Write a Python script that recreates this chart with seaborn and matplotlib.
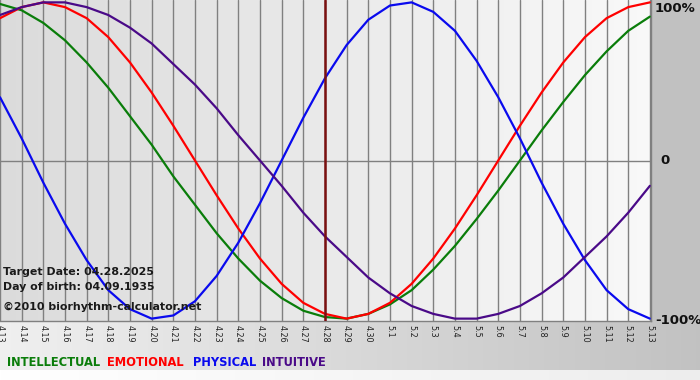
import numpy as np
import pandas as pd
import matplotlib
matplotlib.use("Agg")
import matplotlib.pyplot as plt
import seaborn as sns

dates = ["4.13", "4.14", "4.15", "4.16", "4.17", "4.18", "4.19", "4.20", "4.21", "4.22",
         "4.23", "4.24", "4.25", "4.26", "4.27", "4.28", "4.29", "4.30", "5.1", "5.2",
         "5.3", "5.4", "5.5", "5.6", "5.7", "5.8", "5.9", "5.10", "5.11", "5.12", "5.13"]

# values in percent for each day
intellectual = [99, 95, 87, 76, 62, 46, 28, 10, -10, -28, -46, -62, -76, -87, -95, -99,
                -100, -97, -91, -82, -69, -54, -37, -19, 0, 19, 37, 54, 69, 82, 91]
emotional = [90, 97, 100, 97, 90, 78, 62, 43, 22, 0, -22, -43, -62, -78, -90, -97,
             -100, -97, -90, -78, -62, -43, -22, 0, 22, 43, 62, 78, 90, 97, 100]
physical = [40, 14, -14, -40, -63, -82, -94, -100, -98, -89, -73, -52, -27, 0, 27, 52,
            73, 89, 98, 100, 94, 82, 63, 40, 14, -14, -40, -63, -82, -94, -100]
intuitive = [92, 97, 100, 100, 97, 92, 84, 74, 61, 48, 33, 16, 0, -16, -33, -48,
             -61, -74, -84, -92, -97, -100, -100, -97, -92, -84, -74, -61, -48, -33, -16]

cycles = ["INTELLECTUAL", "EMOTIONAL", "PHYSICAL", "INTUITIVE"]
colors = {"INTELLECTUAL": "#0a7d0a", "EMOTIONAL": "#ff0000",
          "PHYSICAL": "#0a0aee", "INTUITIVE": "#4a0a88"}
target_idx = dates.index("4.28")

df = pd.DataFrame({
    "day": list(range(len(dates))) * 4,
    "value": intellectual + emotional + physical + intuitive,
    "cycle": [c for c in cycles for _ in dates],
})

sns.set_style("white")
plt.rcParams["font.family"] = ["DejaVu Sans"]

fig = plt.figure(figsize=(7, 3.8), dpi=100)

# background: gradient plot area, gray right margin, gradient bottom band
W, H, PW, PH = 700, 380, 651, 321
img = np.ones((H, W))
img[:PH, :PW] = np.linspace(0.86, 0.975, PW)[None, :]
img[:PH, PW:] = 0.76
img[PH:370, :] = np.linspace(0.94, 0.76, W)[None, :]
img[370:, :] = np.linspace(1.0, 0.93, W)[None, :]
bg = fig.add_axes([0, 0, 1, 1])
bg.imshow(np.dstack([img] * 3), extent=[0, W, H, 0], aspect="auto", interpolation="bilinear")
bg.set_xlim(0, W)
bg.set_ylim(H, 0)
bg.axis("off")

ax = fig.add_axes([0, 1 - PH / H, PW / W, PH / H])
ax.patch.set_alpha(0)
ax.set_axisbelow(True)
ax.grid(axis="x", color="#808080", lw=1)
ax.axhline(0, color="#808080", lw=1, zorder=1)

sns.lineplot(data=df, x="day", y="value", hue="cycle", hue_order=cycles,
             palette=colors, linewidth=1.6, legend=False, ax=ax)
ax.axvline(target_idx, color="#7a1010", lw=1.8, zorder=5)

ax.set_xlim(0, 30.05)
ax.set_ylim(-101.5, 101.5)
ax.set_xticks(range(len(dates)))
ax.set_xticklabels(dates, rotation=270, fontsize=5.8, color="#222222")
ax.tick_params(axis="x", length=0, pad=3)
ax.set_yticks([])
ax.set_xlabel("")
ax.set_ylabel("")
for s in ["top", "left"]:
    ax.spines[s].set_visible(False)
for s in ["bottom", "right"]:
    ax.spines[s].set_color("#808080")
    ax.spines[s].set_linewidth(1)

# right side percent labels
fig.text(655 / W, 1 - 8 / H, "100%", va="center", fontsize=9.5, fontweight="bold", color="#111111")
fig.text(660 / W, 1 - 161 / H, "0", va="center", fontsize=9.5, fontweight="bold", color="#111111")
fig.text(655 / W, 1 - 321 / H, "-100%", va="center", fontsize=9.5, fontweight="bold", color="#111111")

# info text
info = ["Target Date: 04.28.2025", "Day of birth: 04.09.1935", "\u00a92010 biorhythm-calculator.net"]
for txt, yy in zip(info, [272, 287, 307]):
    fig.text(3 / W, 1 - yy / H, txt, va="center", fontsize=7.9, fontweight="bold", color="#1a1a1a")

# legend words
for name, xx in zip(cycles, [7, 107, 193, 262]):
    fig.text(xx / W, 1 - 362 / H, name, va="center", fontsize=8.3, fontweight="bold",
             color=colors[name])

fig.savefig("out.png", dpi=100)
